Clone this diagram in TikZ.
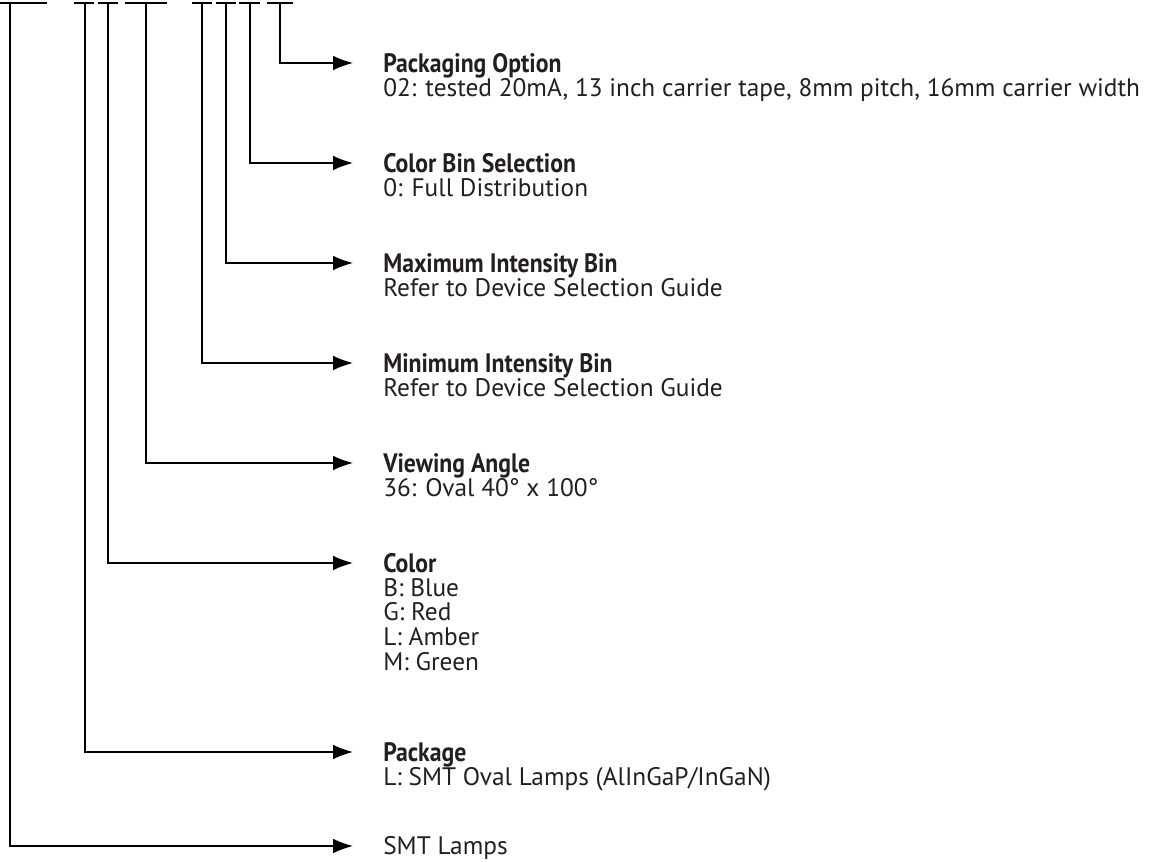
\documentclass[tikz,border=0pt]{standalone}
\usepackage{fontspec}
\setmainfont{PT Sans}
\newfontfamily\titlefont[FakeStretch=0.89]{PT Sans}
\usetikzlibrary{arrows.meta}
\definecolor{inkgray}{HTML}{231F20}

\begin{document}
\begin{tikzpicture}[x=0.75pt, y=-0.75pt,
    bar/.style={line width=1.1pt},
    lead/.style={line width=1.1pt, -{Latex[length=15pt, width=11pt]}, shorten >=22.5pt},
    title/.style={anchor=west, inner sep=0pt, text height=14pt, text depth=0pt, text=inkgray,
        font=\titlefont\bfseries\fontsize{20pt}{24pt}\selectfont},
    desc/.style={anchor=north west, inner sep=0pt, align=left, text=inkgray,
        font=\fontsize{19pt}{18.5pt}\selectfont}]

    \useasboundingbox (0,0) rectangle (1150,862);

    % Bars over the part number
    \draw[bar] (0,3) -- (47,3);
    \draw[bar] (74,3) -- (94,3);
    \draw[bar] (98,3) -- (118,3);
    \draw[bar] (125,3) -- (167,3);
    \draw[bar] (192,3) -- (212,3);
    \draw[bar] (216,3) -- (236,3);
    \draw[bar] (239,3) -- (260,3);
    \draw[bar] (267,3) -- (293,3);

    % Drop points under each bar
    \coordinate (b1) at (10,3);
    \coordinate (b2) at (85,3);
    \coordinate (b3) at (108,3);
    \coordinate (b4) at (146,3);
    \coordinate (b5) at (202,3);
    \coordinate (b6) at (226,3);
    \coordinate (b7) at (250,3);
    \coordinate (b8) at (280,3);

    % Field titles
    \node[title] (pkgopt) at (383,63) {Packaging Option};
    \node[title] (colbin) at (383,163) {Color Bin Selection};
    \node[title] (maxbin) at (383,263) {Maximum Intensity Bin};
    \node[title] (minbin) at (383,363) {Minimum Intensity Bin};
    \node[title] (angle) at (383,463) {Viewing Angle};
    \node[title] (color) at (383,563) {Color};
    \node[title] (package) at (383,752) {Package};
    \node[desc, anchor=west, text height=13.3pt, text depth=0pt] (smt) at (383,846) {SMT Lamps};

    % Field values
    \node[desc] (pkgoptv) at (383,78) {02: tested 20mA, 13 inch carrier tape, 8mm pitch, 16mm carrier width};
    \node[desc] (colbinv) at (383,178) {0: Full Distribution};
    \node[desc] (maxbinv) at (383,278) {Refer to Device Selection Guide};
    \node[desc] (minbinv) at (383,378) {Refer to Device Selection Guide};
    \node[desc] (anglev) at (383,478) {36: Oval 40° x 100°};
    \node[desc] (colorv) at (383,578) {B: Blue\\G: Red\\L: Amber\\M: Green};
    \node[desc] (packagev) at (383,767) {L: SMT Oval Lamps (AlInGaP/InGaN)};

    % Leaders
    \draw[lead] (b8) |- (pkgopt.west);
    \draw[lead] (b7) |- (colbin.west);
    \draw[lead] (b6) |- (maxbin.west);
    \draw[lead] (b5) |- (minbin.west);
    \draw[lead] (b4) |- (angle.west);
    \draw[lead] (b3) |- (color.west);
    \draw[lead] (b2) |- (package.west);
    \draw[lead] (b1) |- (smt.west);

\end{tikzpicture}
\end{document}
